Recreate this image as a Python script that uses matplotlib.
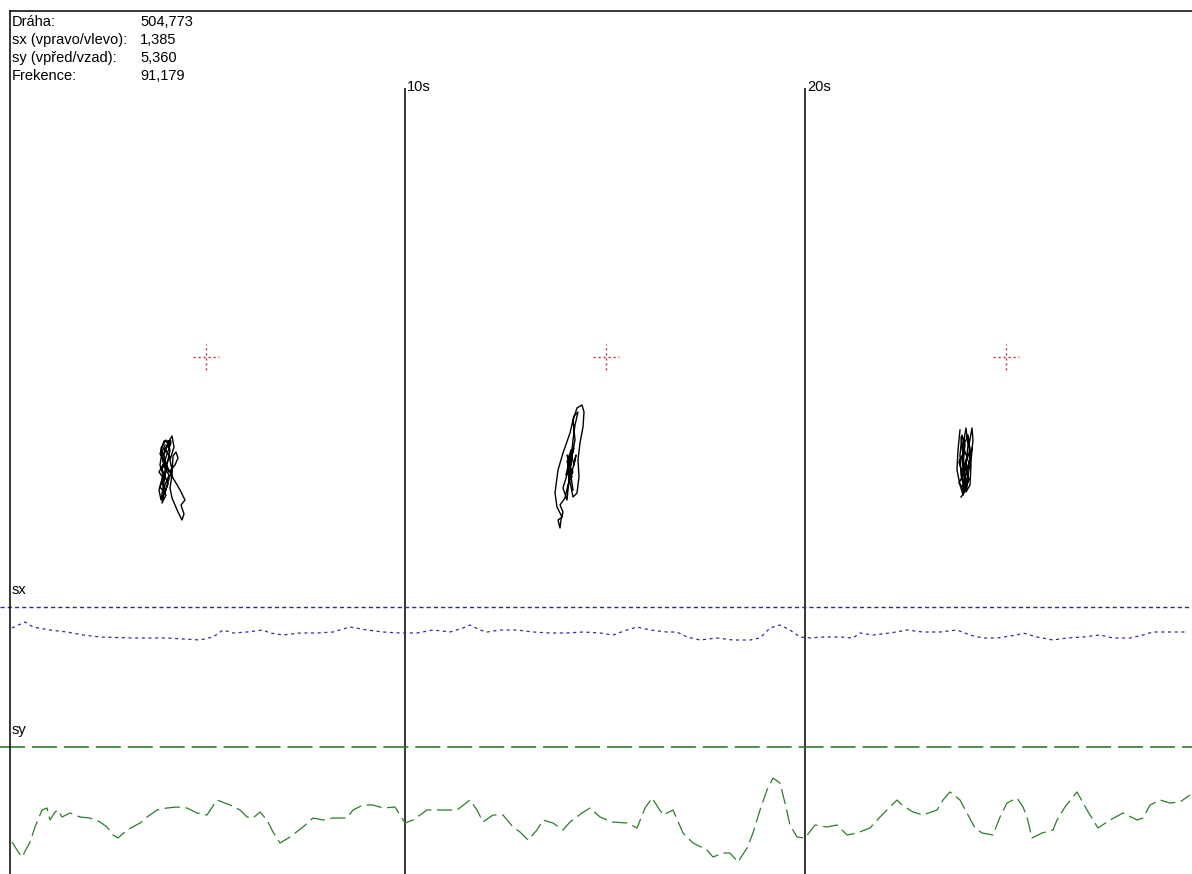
import matplotlib
matplotlib.use("Agg")
import matplotlib.pyplot as plt
from matplotlib.lines import Line2D

plt.rcParams['font.family'] = ['Liberation Sans Narrow', 'Liberation Sans', 'DejaVu Sans']
plt.rcParams['lines.scale_dashes'] = False

# ---------------- data ----------------
info_labels = ["Dráha:", "sx (vpravo/vlevo):", "sy (vpřed/vzad):", "Frekence:"]
info_values = ["504,773", "1,385", "5,360", "91,179"]

marker_times = [10, 20]
marker_labels = ["10s", "20s"]
window_starts = [0, 10, 20]

# stabilogram trajectories per 10 s window (relative to the target cross)
traj1_x = [-41, -44, -46, -43, -47, -45, -43, -40, -42, -38, -34, -32, -36, -34, -38, -41, -44, -39,
           -36, -40, -45, -43, -37, -31, -28, -30, -33, -34, -36, -34, -31, -28, -24, -22, -25, -21,
           -26, -30, -33, -38, -44, -40, -35, -42, -46, -41, -47, -42, -46, -40, -44, -41, -37,
           -42, -36, -41, -35, -39, -44, -38, -43]
traj1_y = [-88, -95, -108, -118, -133, -143, -131, -113, -98, -86, -79, -90, -103, -113, -125, -136,
           -123, -108, -93, -83, -91, -105, -115, -108, -101, -95, -99, -118, -131, -141, -148, -155,
           -163, -157, -148, -143, -133, -126, -121, -111, -101, -90, -84, -84, -97, -104, -115,
           -122, -130, -138, -146, -128, -118, -110, -100, -92, -86, -97, -112, -127, -140]

traj2_x = [-33, -36, -34, -31, -33, -29, -24, -22, -23, -26, -28, -27, -29, -33, -36, -38, -35, -39,
           -34, -40, -36, -32, -37, -43, -39, -36, -33, -31, -28, -32, -36, -43, -48, -51, -49, -44,
           -48, -46, -45, -43, -46, -41, -38, -34, -30, -32, -34, -38, -33, -37, -35, -39, -34]
traj2_y = [-133, -113, -98, -83, -63, -51, -48, -55, -70, -86, -103, -120, -136, -140, -125, -108,
           -93, -105, -113, -118, -101, -91, -111, -131, -143, -113, -83, -68, -55, -59, -76, -96,
           -113, -136, -150, -160, -163, -171, -163, -155, -148, -141, -128, -115, -98, -108, -100,
           -110, -115, -122, -105, -98, -120]

traj3_x = [-46, -48, -49, -46, -43, -41, -44, -42, -40, -38, -40, -38, -40, -36, -35, -37, -34, -33,
           -35, -38, -42, -45, -46, -44, -41, -43, -39, -36, -34, -37, -41, -44, -40, -45, -42,
           -47, -43, -47, -41, -44, -39, -43, -38, -36, -41, -37, -42, -45]
traj3_y = [-73, -93, -113, -128, -138, -123, -103, -83, -71, -88, -108, -123, -135, -128, -108, -88,
           -71, -83, -103, -118, -131, -118, -98, -78, -88, -108, -115, -101, -91, -105, -121, -133,
           -128, -80, -95, -105, -118, -126, -133, -115, -100, -90, -78, -92, -110, -122, -136, -140]

trajectories_x = [traj1_x, traj2_x, traj3_x]
trajectories_y = [traj1_y, traj2_y, traj3_y]

# sx time series (s, deviation)
sx_t = [0.175, 0.5, 0.7, 1.125, 1.55, 1.95, 2.375, 3.2, 4.05, 4.875, 5.2, 5.45, 5.7, 6.05, 6.45,
        6.625, 6.95, 7.375, 7.8, 8.2, 8.625, 9.05, 9.45, 9.875, 10.3, 10.7, 11.125, 11.45, 11.625,
        11.875, 12.05, 12.375, 12.8, 13.2, 13.625, 14.05, 14.45, 14.875, 15.2, 15.55, 15.8, 16.125,
        16.55, 16.8, 17.05, 17.375, 17.8, 18.2, 18.625, 18.875, 19.125, 19.375, 19.625, 19.875,
        20.125, 20.45, 20.875, 21.2, 21.375, 21.7, 22.125, 22.55, 22.95, 23.375, 23.8, 24.125,
        24.45, 24.8, 25.3, 25.45, 25.8, 26.2, 26.55, 26.95, 27.375, 27.7, 28.125, 28.45, 28.7,
        29.125, 29.55]
sx_v = [-21, -15, -20, -23, -25, -28, -30, -31, -31, -33, -30, -23, -26, -25, -23, -26, -28, -26,
        -26, -25, -20, -23, -25, -26, -26, -23, -25, -21, -18, -23, -25, -23, -23, -25, -26, -26,
        -25, -26, -28, -23, -20, -23, -25, -25, -30, -33, -31, -33, -33, -31, -21, -18, -23, -30,
        -31, -30, -30, -31, -26, -28, -26, -23, -25, -25, -23, -28, -31, -31, -28, -26, -30, -33,
        -31, -30, -28, -31, -31, -28, -25, -25, -25]

# sy time series (s, deviation)
sy_t = [0.175, 0.3, 0.425, 0.625, 0.75, 0.925, 1.05, 1.125, 1.25, 1.325, 1.425, 1.625, 1.875,
        2.125, 2.375, 2.55, 2.7, 2.825, 3.05, 3.375, 3.55, 3.8, 4.05, 4.3, 4.55, 4.8, 5.05, 5.3,
        5.625, 5.875, 6.05, 6.2, 6.375, 6.55, 6.7, 6.875, 7.125, 7.45, 7.7, 7.95, 8.2, 8.55, 8.7,
        8.95, 9.2, 9.45, 9.75, 10.0, 10.2, 10.55, 10.95, 11.3, 11.625, 11.8, 11.95, 12.2, 12.45,
        12.7, 12.875, 13.075, 13.3, 13.45, 13.7, 13.95, 14.125, 14.425, 14.625, 14.875, 15.175,
        15.55, 15.8, 16.0, 16.175, 16.45, 16.7, 16.95, 17.2, 17.55, 17.7, 17.95, 18.125, 18.325,
        18.55, 18.7, 18.875, 19.05, 19.2, 19.375, 19.5, 19.625, 19.8, 20.0, 20.25, 20.55, 20.8,
        21.05, 21.3, 21.625, 21.875, 22.125, 22.3, 22.425, 22.7, 22.95, 23.3, 23.45, 23.625,
        23.875, 24.05, 24.25, 24.425, 24.7, 24.875, 25.05, 25.3, 25.45, 25.55, 25.675, 25.925,
        26.2, 26.3, 26.5, 26.8, 27.05, 27.325, 27.625, 27.95, 28.3, 28.45, 28.625, 28.875,
        29.125, 29.375, 29.625]
sy_v = [-95, -103, -110, -95, -80, -63, -61, -73, -65, -63, -70, -66, -70, -71, -75, -80, -88, -91,
        -83, -76, -70, -63, -61, -60, -61, -66, -68, -53, -58, -63, -70, -71, -65, -73, -85, -96,
        -90, -80, -71, -73, -71, -71, -63, -58, -58, -61, -60, -76, -73, -63, -63, -63, -53, -63,
        -75, -68, -68, -80, -85, -93, -83, -73, -76, -83, -75, -66, -61, -70, -75, -76, -81, -61,
        -51, -68, -63, -86, -96, -103, -110, -106, -106, -115, -101, -86, -63, -43, -31, -36, -56,
        -78, -90, -91, -78, -80, -78, -88, -86, -81, -70, -60, -53, -58, -65, -68, -63, -53, -45,
        -53, -66, -81, -86, -88, -70, -56, -51, -60, -70, -91, -86, -83, -73, -60, -45, -63, -81,
        -73, -66, -73, -71, -58, -53, -56, -55, -48]

# ---------------- layout helpers ----------------
W, H = 1192, 874
T_LIM = (-5 / 40, (W - 5) / 40)
FS = 10.5


def frac(x0, y0, x1, y1):
    return [x0 / W, 1 - y1 / H, (x1 - x0) / W, (y1 - y0) / H]


BLUE = "#2a2aa6"
GREEN = "#2f7a2f"
RED = "#c03c3c"

fig = plt.figure(figsize=(W / 100, H / 100), dpi=100)
fig.patch.set_facecolor("white")

# background axes (time on x, pixel rows on y)
ax = fig.add_axes([0, 0, 1, 1])
ax.set_xlim(*T_LIM)
ax.set_ylim(H, 0)
ax.axis("off")
ax.vlines(marker_times, 88, H, color="black", lw=1.1)
for t, lab in zip(marker_times, marker_labels):
    ax.text(t + 0.05, 87, lab, fontsize=FS, va="center", ha="left")

# frame lines
fig.add_artist(Line2D([10 / W, 10 / W], [0, 1 - 11 / H], color="black", lw=1.1))
fig.add_artist(Line2D([10 / W, 1], [1 - 11 / H, 1 - 11 / H], color="black", lw=1.1))

# info block
for i, (lab, val) in enumerate(zip(info_labels, info_values)):
    y = 1 - (22 + 18 * i) / H
    fig.text(12 / W, y, lab, fontsize=FS, va="center", ha="left")
    fig.text(140 / W, y, val, fontsize=FS, va="center", ha="left")

# stabilogram windows
for k, ws in enumerate(window_starts):
    x0 = 6 + 400 * k
    wax = fig.add_axes(frac(x0, 300, x0 + 400, 560))
    wax.set_xlim(-200, 200)
    wax.set_ylim(-203, 57)
    wax.axis("off")
    wax.plot([-13, 13], [0, 0], color=RED, lw=1.0, dashes=(1.6, 2.0))
    wax.plot([0, 0], [-13, 13], color=RED, lw=1.0, dashes=(1.6, 2.0))
    wax.plot(trajectories_x[k], trajectories_y[k], color="black", lw=1.0)

# sx strip
axsx = fig.add_axes(frac(0, 580, W, 660))
axsx.set_xlim(*T_LIM)
axsx.set_ylim(-53, 27)
axsx.axis("off")
axsx.axhline(0, color=BLUE, lw=1.0, dashes=(3.0, 2.2))
axsx.plot(sx_t, sx_v, color=BLUE, lw=0.9, dashes=(2.2, 2.6))
fig.text(12 / W, 1 - 590 / H, "sx", fontsize=FS, va="center", ha="left")

# sy strip
axsy = fig.add_axes(frac(0, 730, W, 874))
axsy.set_xlim(*T_LIM)
axsy.set_ylim(-127, 17)
axsy.axis("off")
axsy.axhline(0, color=GREEN, lw=1.2, dashes=(18, 5))
axsy.plot(sy_t, sy_v, color=GREEN, lw=0.9, dashes=(11, 4))
fig.text(12 / W, 1 - 730 / H, "sy", fontsize=FS, va="center", ha="left")

fig.savefig("out.png", dpi=100, facecolor="white")
